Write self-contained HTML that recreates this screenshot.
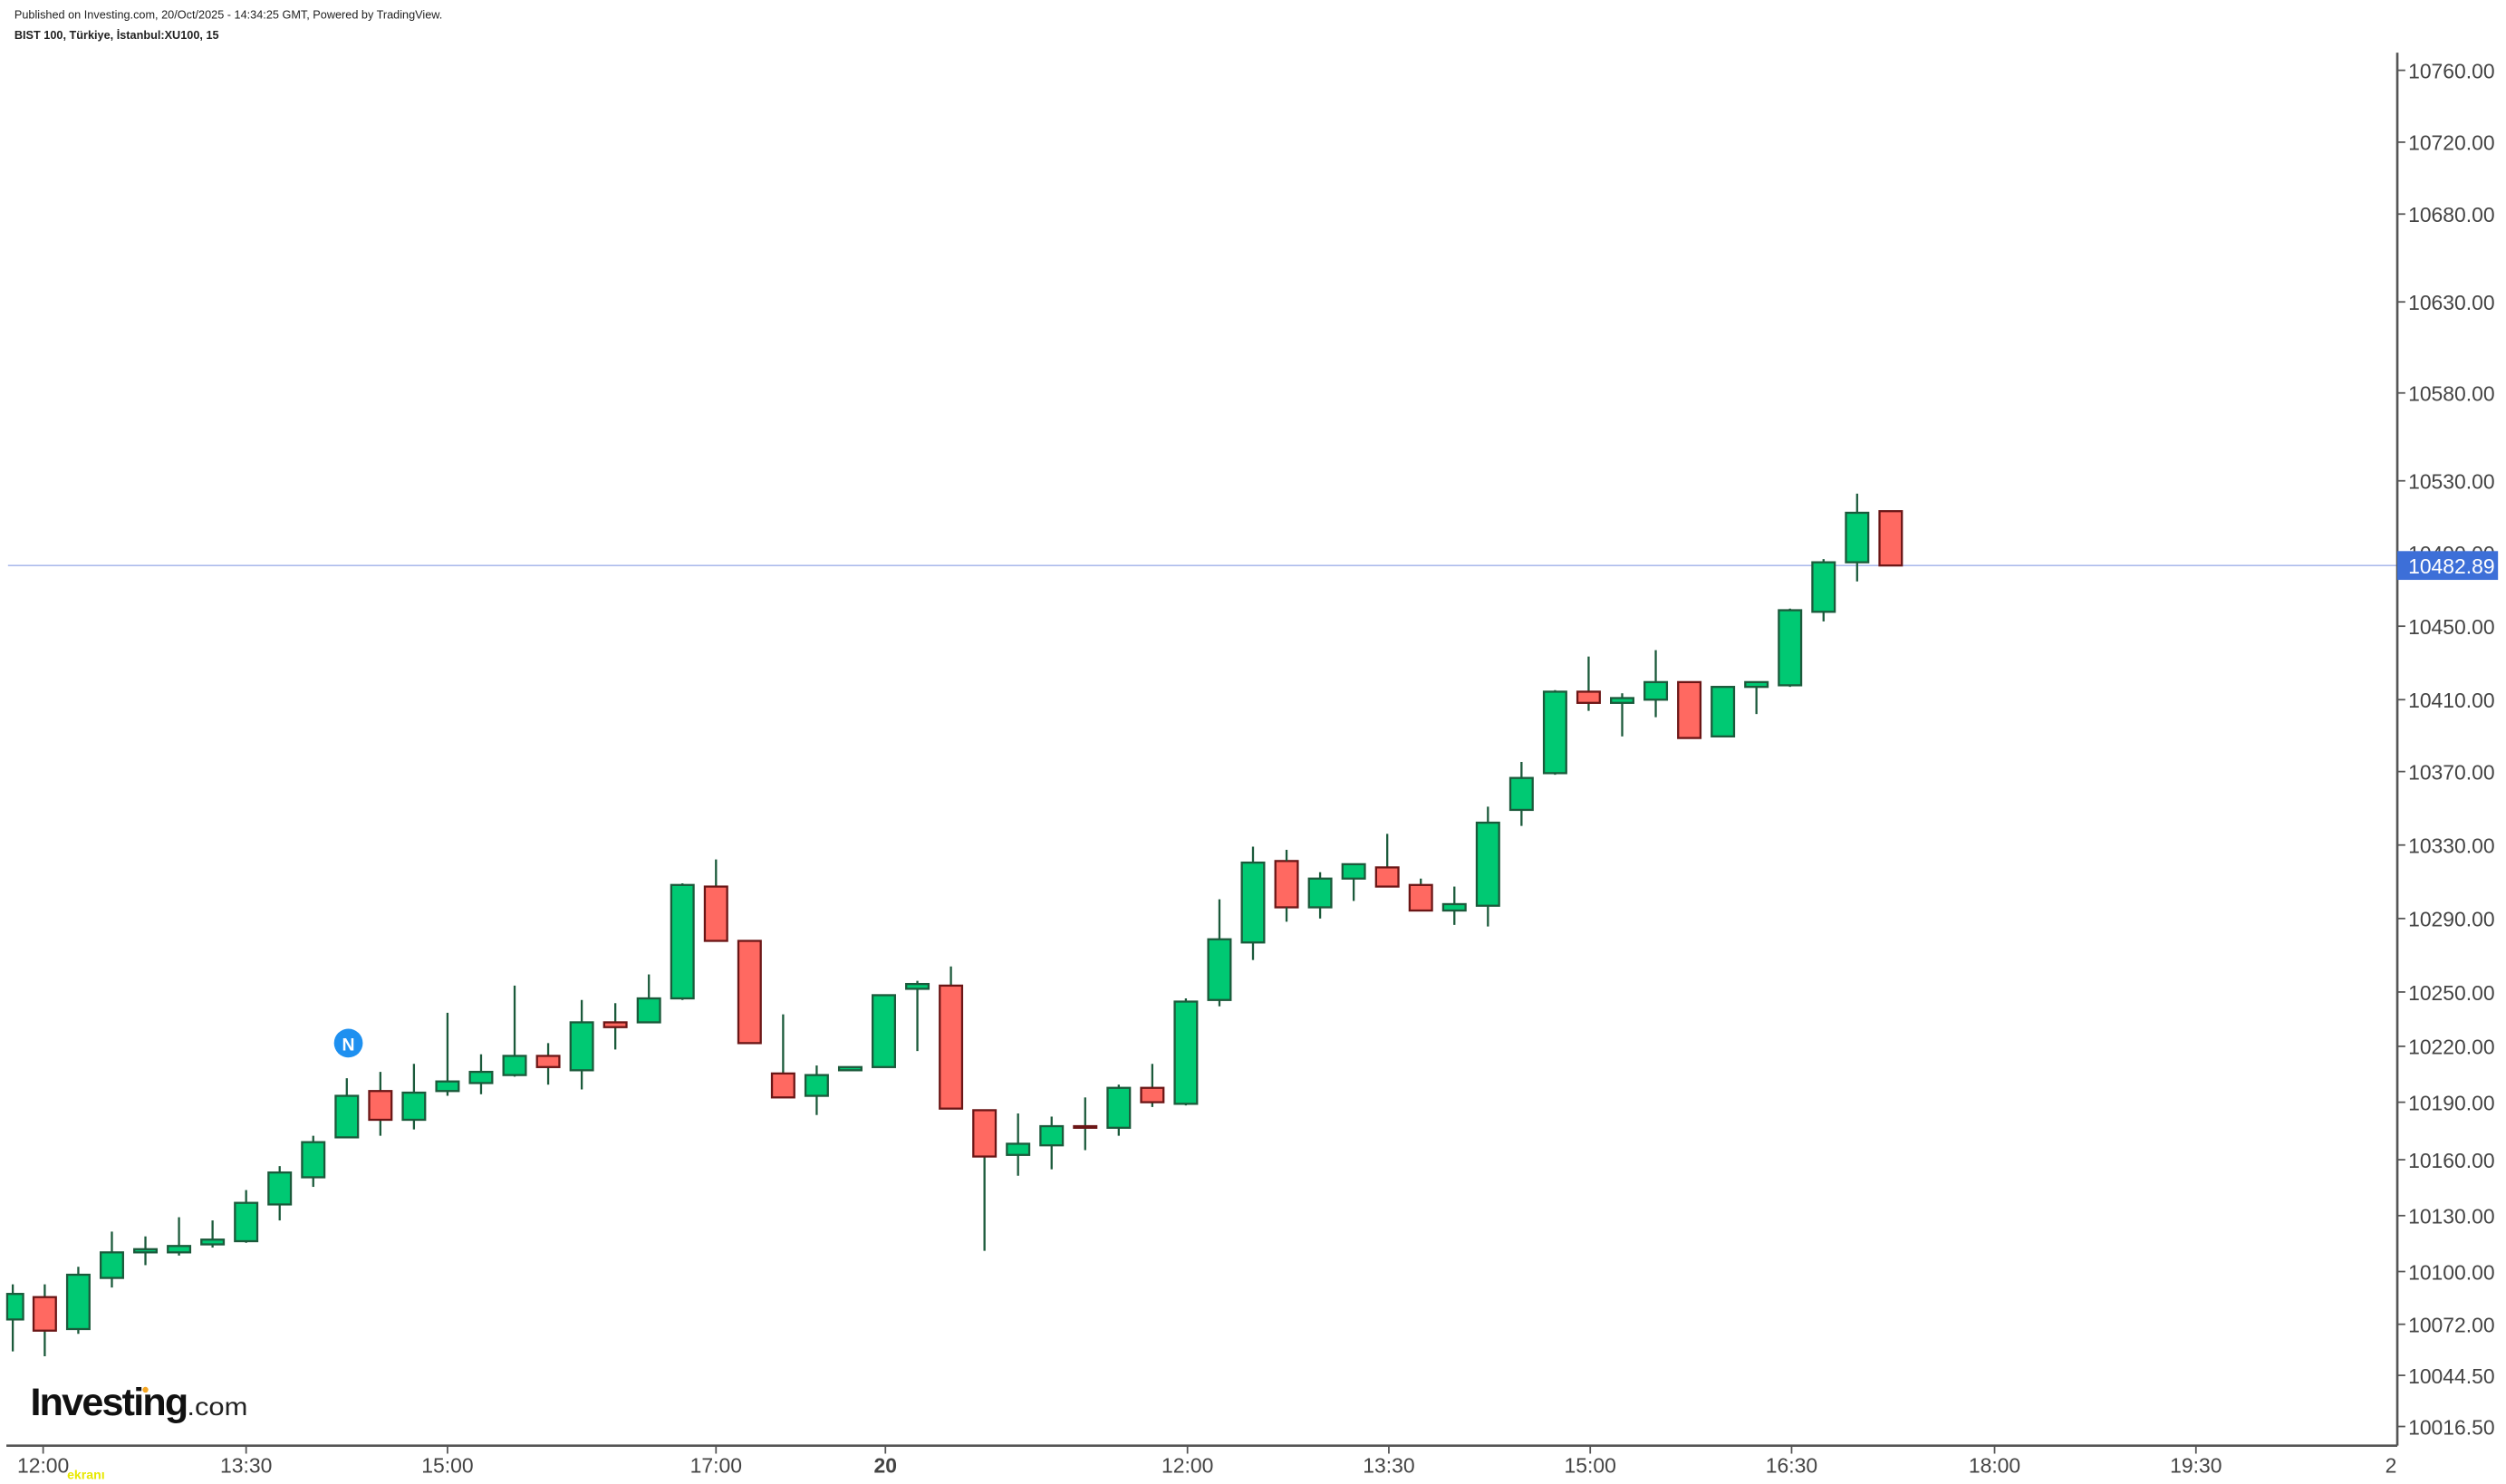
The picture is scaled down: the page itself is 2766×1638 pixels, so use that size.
<!DOCTYPE html>
<html><head><meta charset="utf-8"><style>
html,body{margin:0;padding:0;background:#fff;}
svg{display:block;}
</style></head><body>
<svg width="2766" height="1638" viewBox="0 0 1568 929" preserveAspectRatio="none" xmlns="http://www.w3.org/2000/svg" font-family="Liberation Sans, Arial, sans-serif">
<rect width="1568" height="929" fill="#fff"/>
<text x="9" y="11.5" font-size="7.2" fill="#222">Published on Investing.com, 20/Oct/2025 - 14:34:25 GMT, Powered by TradingView.</text>
<text x="9" y="24.5" font-size="7.2" font-weight="bold" fill="#222">BIST 100, Türkiye, İstanbul:XU100, 15</text>
<line x1="5" y1="354" x2="1500" y2="354" stroke="#9fb0e8" stroke-width="0.8"/>
<g stroke-width="1.3">
<g stroke="#1b5a3b" fill="#00c973">
<line x1="8" y1="804" x2="8" y2="846"/><rect x="4.5" y="810" width="10" height="16"/>
<line x1="49" y1="793" x2="49" y2="835"/><rect x="42" y="798" width="14" height="34"/>
<line x1="70" y1="771" x2="70" y2="806"/><rect x="63" y="784" width="14" height="16"/>
<line x1="91" y1="774" x2="91" y2="792"/><rect x="84" y="782" width="14" height="2"/>
<line x1="112" y1="762" x2="112" y2="786"/><rect x="105" y="780" width="14" height="4"/>
<line x1="133" y1="764" x2="133" y2="781"/><rect x="126" y="776" width="14" height="3"/>
<line x1="154" y1="745" x2="154" y2="778"/><rect x="147" y="753" width="14" height="24"/>
<line x1="175" y1="730" x2="175" y2="764"/><rect x="168" y="734" width="14" height="20"/>
<line x1="196" y1="711" x2="196" y2="743"/><rect x="189" y="715" width="14" height="22"/>
<line x1="217" y1="675" x2="217" y2="712"/><rect x="210" y="686" width="14" height="26"/>
<line x1="259" y1="666" x2="259" y2="707"/><rect x="252" y="684" width="14" height="17"/>
<line x1="280" y1="634" x2="280" y2="686"/><rect x="273" y="677" width="14" height="6"/>
<line x1="301" y1="660" x2="301" y2="685"/><rect x="294" y="671" width="14" height="7"/>
<line x1="322" y1="617" x2="322" y2="674"/><rect x="315" y="661" width="14" height="12"/>
<line x1="364" y1="626" x2="364" y2="682"/><rect x="357" y="640" width="14" height="30"/>
<line x1="406" y1="610" x2="406" y2="640"/><rect x="399" y="625" width="14" height="15"/>
<line x1="427" y1="553" x2="427" y2="626"/><rect x="420" y="554" width="14" height="71"/>
<line x1="511" y1="667" x2="511" y2="698"/><rect x="504" y="673" width="14" height="13"/>
<rect x="525" y="668" width="14" height="2"/>
<rect x="546" y="623" width="14" height="45"/>
<line x1="574" y1="614" x2="574" y2="658"/><rect x="567" y="616" width="14" height="3"/>
<line x1="637" y1="697" x2="637" y2="736"/><rect x="630" y="716" width="14" height="7"/>
<line x1="658" y1="699" x2="658" y2="732"/><rect x="651" y="705" width="14" height="12"/>
<line x1="700" y1="679" x2="700" y2="711"/><rect x="693" y="681" width="14" height="25"/>
<line x1="742" y1="625" x2="742" y2="692"/><rect x="735" y="627" width="14" height="64"/>
<line x1="763" y1="563" x2="763" y2="630"/><rect x="756" y="588" width="14" height="38"/>
<line x1="784" y1="530" x2="784" y2="601"/><rect x="777" y="540" width="14" height="50"/>
<line x1="826" y1="546" x2="826" y2="575"/><rect x="819" y="550" width="14" height="18"/>
<line x1="847" y1="541" x2="847" y2="564"/><rect x="840" y="541" width="14" height="9"/>
<line x1="910" y1="555" x2="910" y2="579"/><rect x="903" y="566" width="14" height="4"/>
<line x1="931" y1="505" x2="931" y2="580"/><rect x="924" y="515" width="14" height="52"/>
<line x1="952" y1="477" x2="952" y2="517"/><rect x="945" y="487" width="14" height="20"/>
<line x1="973" y1="432" x2="973" y2="485"/><rect x="966" y="433" width="14" height="51"/>
<line x1="1015" y1="434" x2="1015" y2="461"/><rect x="1008" y="437" width="14" height="3"/>
<line x1="1036" y1="407" x2="1036" y2="449"/><rect x="1029" y="427" width="14" height="11"/>
<rect x="1071" y="430" width="14" height="31"/>
<line x1="1099" y1="427" x2="1099" y2="447"/><rect x="1092" y="427" width="14" height="3"/>
<line x1="1120" y1="381" x2="1120" y2="430"/><rect x="1113" y="382" width="14" height="47"/>
<line x1="1141" y1="350" x2="1141" y2="389"/><rect x="1134" y="352" width="14" height="31"/>
<line x1="1162" y1="309" x2="1162" y2="364"/><rect x="1155" y="321" width="14" height="31"/>
</g>
<g stroke="#6b1616" fill="#ff6961">
<line x1="28" y1="804" x2="28" y2="849" stroke="#1b5a3b"/><rect x="21" y="812" width="14" height="21"/>
<line x1="238" y1="671" x2="238" y2="711" stroke="#1b5a3b"/><rect x="231" y="683" width="14" height="18"/>
<line x1="343" y1="653" x2="343" y2="679" stroke="#1b5a3b"/><rect x="336" y="661" width="14" height="7"/>
<line x1="385" y1="628" x2="385" y2="657" stroke="#1b5a3b"/><rect x="378" y="640" width="14" height="3"/>
<line x1="448" y1="538" x2="448" y2="589" stroke="#1b5a3b"/><rect x="441" y="555" width="14" height="34"/>
<rect x="462" y="589" width="14" height="64"/>
<line x1="490" y1="635" x2="490" y2="687" stroke="#1b5a3b"/><rect x="483" y="672" width="14" height="15"/>
<line x1="595" y1="605" x2="595" y2="694" stroke="#1b5a3b"/><rect x="588" y="617" width="14" height="77"/>
<line x1="616" y1="695" x2="616" y2="783" stroke="#1b5a3b"/><rect x="609" y="695" width="14" height="29"/>
<line x1="679" y1="687" x2="679" y2="720" stroke="#1b5a3b"/><rect x="672" y="705" width="14" height="1"/>
<line x1="721" y1="666" x2="721" y2="693" stroke="#1b5a3b"/><rect x="714" y="681" width="14" height="9"/>
<rect x="798" y="539" width="14" height="29"/><line x1="805" y1="568" x2="805" y2="577" stroke="#1b5a3b"/><line x1="805" y1="532" x2="805" y2="539" stroke="#1b5a3b"/>
<line x1="868" y1="522" x2="868" y2="543" stroke="#1b5a3b"/><rect x="861" y="543" width="14" height="12"/>
<line x1="889" y1="550" x2="889" y2="554" stroke="#1b5a3b"/><rect x="882" y="554" width="14" height="16"/>
<line x1="994" y1="411" x2="994" y2="445" stroke="#1b5a3b"/><rect x="987" y="433" width="14" height="7"/>
<rect x="1050" y="427" width="14" height="35"/>
<rect x="1176" y="320" width="14" height="34"/>
</g>
</g>
<circle cx="218" cy="653" r="9" fill="#1e90f0"/>
<text x="218" y="657.5" font-size="11" font-weight="bold" fill="#fff" text-anchor="middle">N</text>
<text x="19" y="886" font-size="24" font-weight="bold" fill="#111" textLength="98" lengthAdjust="spacingAndGlyphs" letter-spacing="-1">Investing</text>
<text x="117" y="886" font-size="16" fill="#222" textLength="38" lengthAdjust="spacingAndGlyphs">.com</text>
<circle cx="91" cy="870" r="1.8" fill="#f5a623"/>
<line x1="1500" y1="33" x2="1500" y2="905" stroke="#555" stroke-width="1.5"/>
<line x1="4" y1="905" x2="1500" y2="905" stroke="#555" stroke-width="1.5"/>
<g font-size="13" fill="#444" text-anchor="end">
<text x="1561" y="49">10760.00</text>
<text x="1561" y="94">10720.00</text>
<text x="1561" y="139">10680.00</text>
<text x="1561" y="194">10630.00</text>
<text x="1561" y="251">10580.00</text>
<text x="1561" y="306">10530.00</text>
<text x="1561" y="351">10490.00</text>
<text x="1561" y="397">10450.00</text>
<text x="1561" y="443">10410.00</text>
<text x="1561" y="488">10370.00</text>
<text x="1561" y="534">10330.00</text>
<text x="1561" y="580">10290.00</text>
<text x="1561" y="626">10250.00</text>
<text x="1561" y="660">10220.00</text>
<text x="1561" y="695">10190.00</text>
<text x="1561" y="731">10160.00</text>
<text x="1561" y="766">10130.00</text>
<text x="1561" y="801">10100.00</text>
<text x="1561" y="834">10072.00</text>
<text x="1561" y="866">10044.50</text>
<text x="1561" y="898">10016.50</text>
</g>
<g stroke="#555" stroke-width="1">
<line x1="1500" y1="44" x2="1505" y2="44"/><line x1="1500" y1="89" x2="1505" y2="89"/><line x1="1500" y1="134" x2="1505" y2="134"/><line x1="1500" y1="189" x2="1505" y2="189"/><line x1="1500" y1="246" x2="1505" y2="246"/><line x1="1500" y1="301" x2="1505" y2="301"/><line x1="1500" y1="392" x2="1505" y2="392"/><line x1="1500" y1="438" x2="1505" y2="438"/><line x1="1500" y1="483" x2="1505" y2="483"/><line x1="1500" y1="529" x2="1505" y2="529"/><line x1="1500" y1="575" x2="1505" y2="575"/><line x1="1500" y1="621" x2="1505" y2="621"/><line x1="1500" y1="655" x2="1505" y2="655"/><line x1="1500" y1="690" x2="1505" y2="690"/><line x1="1500" y1="726" x2="1505" y2="726"/><line x1="1500" y1="761" x2="1505" y2="761"/><line x1="1500" y1="796" x2="1505" y2="796"/><line x1="1500" y1="829" x2="1505" y2="829"/><line x1="1500" y1="861" x2="1505" y2="861"/><line x1="1500" y1="893" x2="1505" y2="893"/>
<line x1="27" y1="905" x2="27" y2="910"/><line x1="154" y1="905" x2="154" y2="910"/><line x1="280" y1="905" x2="280" y2="910"/><line x1="448" y1="905" x2="448" y2="910"/><line x1="554" y1="905" x2="554" y2="910"/><line x1="743" y1="905" x2="743" y2="910"/><line x1="869" y1="905" x2="869" y2="910"/><line x1="995" y1="905" x2="995" y2="910"/><line x1="1121" y1="905" x2="1121" y2="910"/><line x1="1248" y1="905" x2="1248" y2="910"/><line x1="1374" y1="905" x2="1374" y2="910"/>
</g>
<rect x="1500" y="345" width="63" height="18" fill="#3d6fd8"/>
<text x="1561" y="359" font-size="13" fill="#fff" text-anchor="end">10482.89</text>
<g font-size="13" fill="#444" text-anchor="middle">
<text x="27" y="922">12:00</text>
<text x="154" y="922">13:30</text>
<text x="280" y="922">15:00</text>
<text x="448" y="922">17:00</text>
<text x="554" y="922" font-weight="bold">20</text>
<text x="743" y="922">12:00</text>
<text x="869" y="922">13:30</text>
<text x="995" y="922">15:00</text>
<text x="1121" y="922">16:30</text>
<text x="1248" y="922">18:00</text>
<text x="1374" y="922">19:30</text>
<text x="1496" y="922">2</text>
</g>
<text x="42" y="926" font-size="8" fill="#e8e800" font-weight="bold">ekranı</text>
</svg>
</body></html>
